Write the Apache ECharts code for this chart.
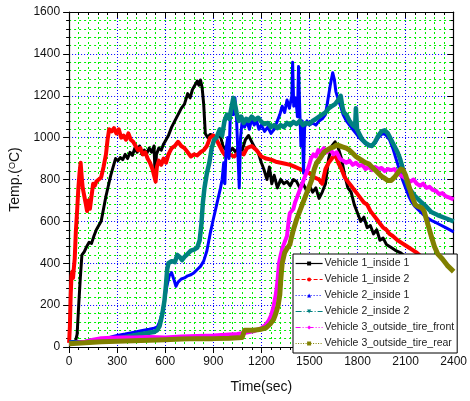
<!DOCTYPE html>
<html>
<head>
<meta charset="utf-8">
<script src="https://cdn.jsdelivr.net/npm/echarts@6/dist/echarts.min.js"></script>
<style>html,body{margin:0;padding:0;background:#fff}#c{width:470px;height:401px}</style>
</head>
<body>
<div id="c"></div>
<script>
// ---- data (time in sec, temperature in degC) ----
const seriesNames = ['Vehicle 1_inside 1','Vehicle 1_inside 2','Vehicle 2_inside 1','Vehicle 2_inside 2','Vehicle 3_outside_tire_front','Vehicle 3_outside_tire_rear'];
const xTicks = [0,300,600,900,1200,1500,1800,2100,2400];
const yTicks = [0,200,400,600,800,1000,1200,1400,1600];

const v1in1_t = [0,20,40,50,60,70,80,95,110,125,140,155,170,185,200,215,230,245,260,275,290,305,320,335,350,365,380,395,410,425,440,455,470,485,500,515,530,538,545,560,575,590,605,620,640,660,680,700,720,740,755,770,785,800,810,820,830,840,850,865,880,900,920,940,960,980,1000,1020,1040,1060,1080,1100,1120,1140,1160,1180,1200,1215,1235,1250,1265,1280,1300,1320,1340,1360,1380,1400,1420,1440,1460,1480,1500,1520,1540,1560,1580,1600,1620,1640,1660,1680,1700,1720,1740,1760,1780,1800,1820,1840,1860,1880,1900,1920,1940,1960,1980,2000,2020,2040,2070,2100,2150,2200,2250,2300,2350,2400];
const v1in1_v = [25,25,28,60,200,330,440,455,480,500,495,530,560,580,600,660,720,770,820,860,900,890,905,895,920,900,930,915,950,930,960,920,940,925,950,930,960,800,920,950,940,970,990,1010,1050,1080,1110,1140,1160,1210,1190,1230,1250,1270,1250,1275,1240,1160,1020,1000,1015,1010,1000,1020,960,940,930,950,930,960,940,990,1010,980,950,930,880,850,800,860,780,820,760,800,780,790,770,800,790,760,780,750,770,740,760,710,740,780,900,960,980,950,900,820,760,740,680,640,600,620,570,580,540,560,510,520,490,480,470,460,450,430,400,370,340,320,300,280];

const v1in2_t = [0,5,10,15,20,25,30,35,42,50,58,65,72,78,85,95,105,112,120,130,140,150,160,170,185,200,215,230,240,250,265,280,295,310,325,340,355,370,385,400,415,430,445,460,475,490,505,520,530,540,548,560,575,590,605,620,640,660,680,700,720,740,760,780,800,820,840,860,880,900,920,940,960,980,1000,1030,1060,1090,1110,1140,1170,1200,1230,1260,1290,1320,1350,1380,1410,1440,1470,1500,1530,1560,1580,1600,1620,1640,1660,1680,1700,1720,1740,1760,1780,1800,1820,1840,1860,1880,1900,1920,1940,1960,1980,2000,2020,2050,2080,2110,2140,2170,2200,2250,2300,2350,2400];
const v1in2_v = [20,100,250,340,360,330,380,420,550,650,760,830,880,820,760,720,680,650,700,660,720,780,770,790,800,810,860,920,990,1040,1030,1045,1020,1040,1000,1010,990,1020,990,980,960,940,950,920,930,900,880,850,820,790,860,890,870,900,880,920,950,960,980,960,950,930,910,920,915,930,940,960,1000,1010,990,960,930,910,920,910,930,920,950,960,940,910,900,895,885,880,875,870,860,850,840,830,810,800,780,850,880,900,920,880,850,810,790,770,750,730,710,690,680,650,630,610,590,570,560,540,530,510,495,480,465,450,430,400,370,345,320];

const v2in1_t = [0,100,200,275,300,350,400,450,500,530,550,565,580,595,610,625,640,655,667,680,700,720,740,760,780,800,820,840,860,880,900,915,930,945,955,965,972,980,990,998,1005,1015,1025,1035,1045,1055,1062,1070,1080,1095,1110,1125,1140,1155,1170,1185,1200,1220,1240,1260,1280,1300,1315,1330,1345,1360,1375,1390,1395,1402,1415,1425,1432,1440,1447,1455,1463,1470,1485,1500,1520,1540,1560,1580,1600,1615,1630,1645,1655,1665,1680,1695,1710,1730,1750,1770,1790,1810,1830,1850,1870,1890,1910,1930,1950,1965,1980,2000,2020,2040,2060,2080,2100,2120,2140,2160,2180,2200,2220,2260,2300,2350,2400];
const v2in1_v = [25,28,35,50,55,62,70,78,85,90,95,120,160,220,290,340,355,320,290,310,325,330,340,345,355,370,385,410,460,540,610,660,710,760,800,880,780,950,1000,900,1080,1150,1110,1190,1090,900,760,1000,1080,1050,1080,1040,1090,1060,1080,1040,1060,1030,1050,1020,1040,1080,1110,1150,1120,1180,1140,1200,1360,1150,1190,1100,1340,1120,960,1080,830,1050,1080,1060,1070,1060,1080,1090,1110,1180,1250,1310,1280,1220,1180,1150,1110,1080,1060,1040,1020,1000,985,970,960,960,975,1000,1015,1020,1010,990,950,900,850,800,760,720,690,670,655,640,625,605,590,570,550];

const v2in2_t = [0,100,200,300,400,450,500,530,550,565,580,595,605,612,620,640,660,675,690,705,720,740,760,780,800,815,825,835,845,860,875,890,905,920,940,955,970,985,1000,1015,1025,1035,1045,1060,1075,1090,1105,1120,1140,1160,1180,1200,1220,1240,1260,1280,1300,1320,1340,1360,1380,1400,1420,1440,1460,1480,1500,1520,1540,1560,1580,1600,1620,1640,1660,1680,1695,1705,1715,1730,1750,1770,1785,1790,1797,1810,1830,1850,1870,1890,1910,1930,1950,1970,1990,2010,2030,2050,2065,2080,2100,2120,2140,2160,2180,2200,2230,2260,2300,2350,2400];
const v2in2_v = [20,22,30,40,55,62,68,72,80,100,150,220,300,370,400,410,405,440,430,415,430,445,460,465,475,510,580,690,760,830,880,950,990,1000,1040,1010,1080,1110,1090,1150,1190,1160,1120,1080,1100,1070,1090,1080,1100,1085,1095,1075,1065,1070,1050,1060,1045,1060,1050,1070,1060,1075,1065,1080,1060,1070,1065,1080,1090,1100,1110,1120,1140,1150,1160,1180,1200,1150,1120,1110,1080,1060,1050,1140,1040,1020,990,975,965,960,980,1010,1030,1035,1020,990,960,930,900,860,800,760,740,720,705,690,670,645,630,615,600];

const v3f_t = [0,50,100,150,200,300,400,500,600,700,800,900,1000,1050,1100,1150,1200,1225,1245,1260,1275,1290,1300,1310,1318,1330,1345,1360,1370,1378,1390,1400,1410,1420,1435,1450,1465,1480,1495,1510,1525,1540,1555,1570,1590,1610,1630,1650,1670,1690,1710,1730,1750,1770,1790,1810,1830,1850,1870,1890,1910,1930,1950,1970,1990,2010,2030,2050,2070,2090,2110,2130,2150,2170,2190,2210,2230,2250,2270,2290,2310,2330,2350,2370,2400];
const v3f_v = [15,20,25,35,42,45,45,48,45,50,52,55,60,62,68,75,90,105,125,150,190,250,310,400,430,470,500,530,600,640,650,660,690,710,740,770,800,830,860,900,920,910,940,930,950,930,945,920,930,900,890,880,890,870,880,865,870,850,860,845,860,850,855,840,850,845,850,830,820,810,800,790,800,780,770,780,760,765,750,745,730,735,720,715,705];

const v3r_t = [0,100,200,300,400,500,600,700,800,900,1000,1080,1095,1150,1200,1230,1255,1275,1290,1305,1315,1322,1330,1345,1360,1378,1390,1400,1420,1440,1455,1470,1485,1500,1515,1530,1545,1565,1590,1610,1630,1650,1670,1690,1710,1730,1750,1770,1790,1810,1830,1850,1870,1890,1910,1930,1950,1970,1990,2010,2030,2050,2070,2085,2100,2120,2140,2160,2180,2200,2215,2230,2245,2260,2280,2300,2330,2360,2400];
const v3r_v = [15,20,25,28,30,32,35,38,40,40,42,45,80,80,85,92,110,130,160,200,250,330,400,450,470,490,530,560,610,650,680,710,740,770,800,850,880,900,930,940,950,955,965,960,955,950,940,925,910,900,890,880,875,860,845,830,815,805,795,795,810,830,850,845,820,770,720,680,670,665,650,610,570,530,480,445,420,390,360];

// ---- chart ----
const zip = (t, v) => t.map((x, i) => [x, v[i]]);
const seriesData = [zip(v1in1_t, v1in1_v), zip(v1in2_t, v1in2_v), zip(v2in1_t, v2in1_v), zip(v2in2_t, v2in2_v), zip(v3f_t, v3f_v), zip(v3r_t, v3r_v)];
const colors = ['#000000','#ff0000','#0000ff','#008080','#ff00ff','#808000'];
const widths = [3, 4, 3, 4.5, 4, 5];
const symbols = ['rect','circle','triangle','path://M0,0L10,0L5,10Z','diamond','rect'];
const legendDash = ['solid',[4,2],[1,2],[6,2,1,2],[5,2,1,2,1,2],[1,1.5]];

const FONT = 'Arial, "Liberation Sans", sans-serif';
const chart = echarts.init(document.getElementById('c'), null, {renderer: 'canvas'});

const baseX = {
  type: 'value', min: 0, max: 2400, interval: 300,
  axisLine: {show: true, onZero: false, lineStyle: {color: '#000', width: 1.2}},
};
const baseY = {
  type: 'value', min: 0, max: 1600, interval: 200,
  axisLine: {show: true, onZero: false, lineStyle: {color: '#000', width: 1.2}},
};

chart.setOption({
  animation: false,
  backgroundColor: '#fff',
  grid: {left: 69, right: 16, top: 12, bottom: 54, containLabel: false},
  xAxis: [
    Object.assign({}, baseX, {
      position: 'bottom',
      name: 'Time(sec)', nameLocation: 'middle', nameGap: 33,
      nameTextStyle: {fontFamily: FONT, fontSize: 14, color: '#111'},
      axisTick: {show: true, inside: false, length: 6, lineStyle: {color: '#000'}},
      minorTick: {show: true, splitNumber: 5, length: 3, lineStyle: {color: '#000'}},
      axisLabel: {show: true, margin: 9, fontFamily: FONT, fontSize: 12, color: '#111',
        formatter: v => (xTicks.indexOf(v) >= 0 ? String(v) : '')},
      splitLine: {show: true, lineStyle: {color: '#0000ff', width: 1, type: [1, 2]}},
      minorSplitLine: {show: true, lineStyle: {color: '#00ee00', width: 1, type: [2, 3]}}
    }),
    Object.assign({}, baseX, {
      position: 'top',
      axisTick: {show: true, inside: true, length: 6, lineStyle: {color: '#000'}},
      minorTick: {show: true, splitNumber: 5, length: 3, lineStyle: {color: '#000'}},
      axisLabel: {show: false},
      splitLine: {show: false}
    })
  ],
  yAxis: [
    Object.assign({}, baseY, {
      position: 'left',
      name: 'Temp.({sup|O}C)', nameLocation: 'middle', nameGap: 37, nameRotate: 90,
      nameTextStyle: {fontFamily: FONT, fontSize: 14, color: '#111',
        rich: {sup: {fontFamily: FONT, fontSize: 9, color: '#111', verticalAlign: 'top', padding: [0,0,6,0]}}},
      axisTick: {show: true, inside: false, length: 6, lineStyle: {color: '#000'}},
      minorTick: {show: true, splitNumber: 5, length: 3, lineStyle: {color: '#000'}},
      axisLabel: {show: true, margin: 9, fontFamily: FONT, fontSize: 12, color: '#111',
        formatter: v => (yTicks.indexOf(v) >= 0 ? String(v) : '')},
      splitLine: {show: true, lineStyle: {color: '#0000ff', width: 1, type: [1, 2]}},
      minorSplitLine: {show: true, lineStyle: {color: '#00ee00', width: 1, type: [2, 3]}}
    }),
    Object.assign({}, baseY, {
      position: 'right',
      axisTick: {show: true, inside: true, length: 6, lineStyle: {color: '#000'}},
      minorTick: {show: true, splitNumber: 5, length: 3, lineStyle: {color: '#000'}},
      axisLabel: {show: false},
      splitLine: {show: false}
    })
  ],
  legend: {
    orient: 'vertical', left: 293, top: 254,
    backgroundColor: '#fff', borderColor: '#000', borderWidth: 1, borderRadius: 0,
    padding: [4, 3, 4, 2],
    itemWidth: 27, itemHeight: 5, itemGap: 5,
    textStyle: {fontFamily: FONT, fontSize: 10.5, color: '#222', lineHeight: 10, padding: [0,0,0,-3]},
    data: seriesNames.map((n, i) => ({
      name: n,
      lineStyle: {type: legendDash[i], width: 1.2, color: colors[i]},
      itemStyle: {color: colors[i], borderWidth: 0}
    }))
  },
  series: seriesNames.map((n, i) => ({
    name: n, type: 'line', xAxisIndex: 0, yAxisIndex: 0,
    data: seriesData[i],
    showSymbol: false, symbol: symbols[i], symbolSize: 4,
    color: colors[i],
    lineStyle: {color: colors[i], width: widths[i], join: 'round'},
    itemStyle: {color: colors[i]},
    clip: true, silent: true, z: 2 + i
  }))
});
</script>
</body>
</html>
